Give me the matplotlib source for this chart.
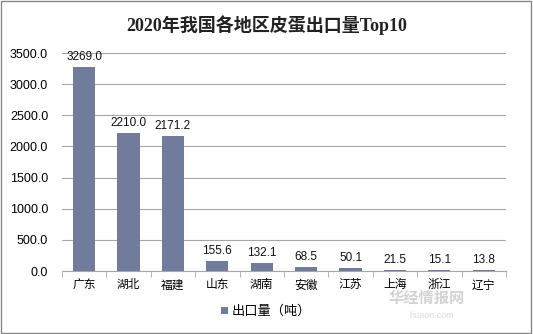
import matplotlib.pyplot as plt
from matplotlib.patches import Rectangle

plt.rcParams['font.family'] = ['Liberation Sans', 'Noto Sans CJK SC', 'DejaVu Sans']

regions = ['广东', '湖北', '福建', '山东', '湖南', '安徽', '江苏', '上海', '浙江', '辽宁']
export_tons = [3269.0, 2210.0, 2171.2, 155.6, 132.1, 68.5, 50.1, 21.5, 15.1, 13.8]
y_ticks = [0, 500, 1000, 1500, 2000, 2500, 3000, 3500]

bar_color = '#717c9d'

fig = plt.figure(figsize=(5.33, 3.34), dpi=100)
ax = fig.add_axes([0.1163, 0.1886, 0.8330, 0.6527])

x = list(range(len(regions)))
bars = ax.bar(x, export_tons, width=0.5, color=bar_color, label='出口量（吨）', zorder=3)

for xi, v in zip(x, export_tons):
    ax.annotate(f'{v:.1f}', (xi, v), xytext=(0, 3), textcoords='offset points',
                ha='center', va='bottom', fontsize=8.5, color='#111111')

ax.set_xlim(-0.5, len(regions) - 0.5)
ax.set_ylim(0, 3500)
ax.set_yticks(y_ticks)
ax.set_yticklabels([f'{t:.1f}' for t in y_ticks], fontsize=9)
ax.yaxis.grid(True, color='#a6a6a6', linewidth=0.8, zorder=0)
ax.tick_params(axis='y', length=0, pad=10)

ax.set_xticks(x)
ax.set_xticklabels(regions, fontsize=8.5)
ax.set_xticks([i + 0.5 for i in range(-1, len(regions))], minor=True)
ax.tick_params(axis='x', which='major', length=0, pad=6)
ax.tick_params(axis='x', which='minor', length=4, color='#a6a6a6', direction='out')

for s in ['top', 'right', 'left']:
    ax.spines[s].set_visible(False)
ax.spines['bottom'].set_color('#a6a6a6')

fig.text(0.5, 0.925, '2020年我国各地区皮蛋出口量Top10', ha='center', va='center',
         fontsize=13, fontweight='bold', color='#222222',
         family=['Liberation Serif', 'Noto Sans CJK SC'])

fig.legend(handles=[bars], loc='center', bbox_to_anchor=(0.5, 0.066), frameon=False,
           fontsize=9.5, handlelength=0.5, handleheight=0.5, handletextpad=0.3)

# watermark
fig.text(0.80, 0.105, '华经情报网', ha='center', va='center', fontsize=11,
         color='#c8c8c8', alpha=0.8, fontweight='bold')
fig.text(0.81, 0.055, 'huaon.com', ha='center', va='center', fontsize=6.5,
         color='#d0d0d0', alpha=0.8)

fig.patches.append(Rectangle((0.002, 0.003), 0.995, 0.993, transform=fig.transFigure,
                             fill=False, edgecolor='#888888', linewidth=1))

fig.savefig('out.png', dpi=100)
